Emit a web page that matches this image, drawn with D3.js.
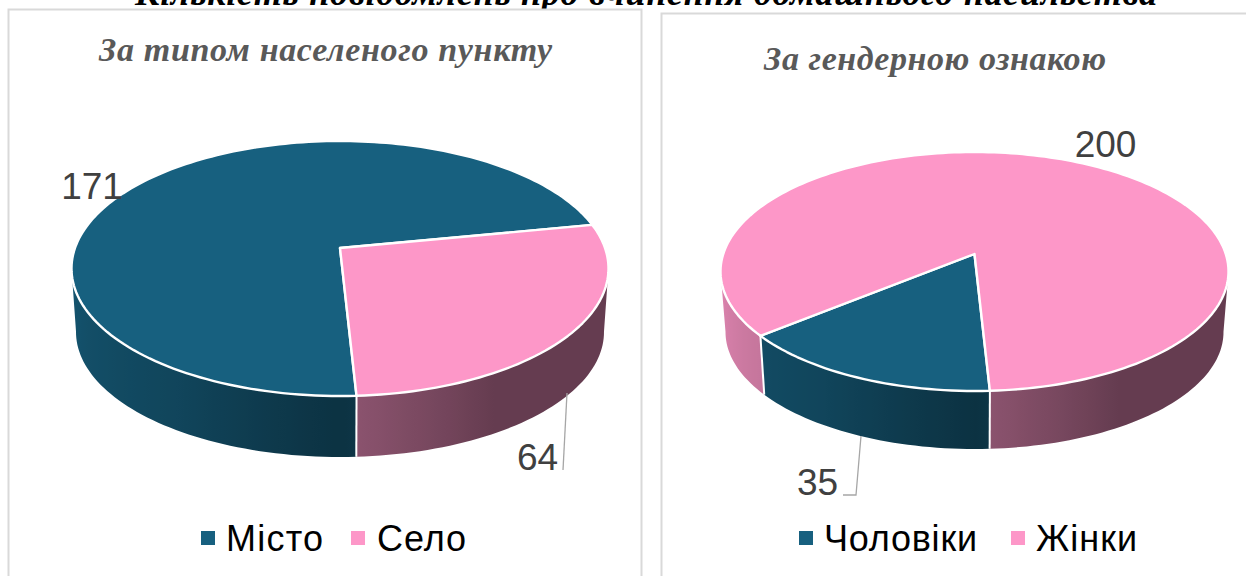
<!doctype html>
<html lang="uk">

<head>
    <meta charset="utf-8">
    <title>d3 - 3d pies</title>
    <script src="https://cdn.jsdelivr.net/npm/d3@7"></script>
    <style>
        body {
            margin: 0;
            background: #fff;
            overflow: hidden;
        }

        svg {
            display: block;
        }
    </style>
</head>

<body>
    <svg></svg>
    <script>
        var width = 1246;
        var height = 576;

        var heading = "Кількість повідомлень про вчинення домашнього насильства";

        var placeCategories = ["Місто", "Село"];
        var placeValues = [171, 64];
        var placeTitle = "За типом населеного пункту";

        var genderCategories = ["Чоловіки", "Жінки"];
        var genderValues = [35, 200];
        var genderTitle = "За гендерною ознакою";

        var colors = ["#17607f", "#fd97c8"];

        // where things go on the page, nothing here is data
        var placeLayout = {
            id: "place",
            panel: [8.5, 9.5, 633, 600],
            title: [325.5, 61, 453],
            top: { cx: 340, cy: 268.5, rx: 268.5, ry: 127.5, d: 20.5 },
            bottom: { cx: 340, cy: 332, rx: 264, ry: 125, d: 20.5 },
            labels: [[92, 199], [537.5, 470]],
            leader: [[567, 393], [563, 470]],
            legend: [[201, 226], [351, 377]],
            legendWidths: [97, 89]
        };
        var genderLayout = {
            id: "gender",
            panel: [661.5, 13.5, 640, 600],
            title: [935, 70, 342],
            top: { cx: 974.5, cy: 271.5, rx: 254, ry: 119.5, d: 17.5 },
            bottom: { cx: 974.5, cy: 332, rx: 249, ry: 117, d: 17.5 },
            labels: [[817.5, 495], [1105.5, 157]],
            leader: [[861, 436], [856, 495], [843, 495]],
            legend: [[799, 824], [1011, 1036]],
            legendWidths: [153, 101]
        };

        var startAngle = 177 * Math.PI / 180;
        var rad = Math.PI / 180;

        var svg = d3.select("svg").attr("width", width).attr("height", height);
        var defs = svg.append("defs");

        // side wall is darker towards the front, same look as the office export
        var shade = d3.scaleLinear()
            .domain([90, 150, 177, 180, 212, 270])
            .range([0.40, 0.40, 0.55, 0.52, 0.72, 0.9])
            .clamp(true);

        var line = d3.line();

        // circle seen in perspective: the middle of the disc is not the middle of the ellipse
        function project(e, a) {
            var u = Math.sin(a);
            var v = -Math.cos(a);
            var k = e.d / e.ry;
            return [
                e.cx + e.rx * Math.sqrt(1 - k * k) * u / (1 - k * v),
                e.cy + (e.ry * v - e.d) / (1 - k * v)
            ];
        }

        function arcPoints(e, a0, a1) {
            var n = Math.ceil((a1 - a0) / rad / 1.5);
            return d3.range(n + 1).map(function (i) {
                return project(e, a0 + (a1 - a0) * i / n);
            });
        }

        function sideColor(base, deg) {
            var c = d3.rgb(base);
            var s = shade(deg);
            return d3.rgb(c.r * s, c.g * s, c.b * s).formatHex();
        }

        // the parts of a slice that face the viewer, in degrees
        // the widest point of the rim sits a little to the front because of the perspective
        function frontParts(s, e) {
            var edge = Math.asin(e.d / e.ry) / rad;
            var parts = [];
            [0, 360].forEach(function (turn) {
                var from = Math.max(s.startAngle / rad, 90 + edge + turn);
                var to = Math.min(s.endAngle / rad, 270 - edge + turn);
                if (from < to) parts.push([from - turn, to - turn]);
            });
            return parts;
        }

        function drawWall(g, lay, s) {
            frontParts(s, lay.top).forEach(function (part, j) {
                var id = lay.id + "-wall-" + s.index + "-" + j;
                var xAt = function (deg) {
                    return (project(lay.top, deg * rad)[0] + project(lay.bottom, deg * rad)[0]) / 2;
                };
                // x falls as the angle grows on the front of the disc
                var x0 = xAt(part[1]);
                var x1 = xAt(part[0]);

                var stops = d3.range(0, 41).map(function (i) {
                    return part[1] + (part[0] - part[1]) * i / 40;
                });

                defs.append("linearGradient")
                    .attr("id", id)
                    .attr("gradientUnits", "userSpaceOnUse")
                    .attr("x1", x0)
                    .attr("x2", x1)
                    .attr("y1", 0)
                    .attr("y2", 0)
                    .selectAll("stop")
                    .data(stops)
                    .enter()
                    .append("stop")
                    .attr("offset", function (d) { return (xAt(d) - x0) / (x1 - x0); })
                    .attr("stop-color", function (d) { return sideColor(colors[s.index], d); });

                var outline = arcPoints(lay.top, part[0] * rad, part[1] * rad)
                    .concat(arcPoints(lay.bottom, part[0] * rad, part[1] * rad).reverse());

                g.append("path")
                    .attr("d", line(outline) + "Z")
                    .attr("fill", "url(#" + id + ")");
            });
        }

        function drawPie(values, categories, title, lay) {
            var g = svg.append("g");

            g.append("rect")
                .attr("x", lay.panel[0])
                .attr("y", lay.panel[1])
                .attr("width", lay.panel[2])
                .attr("height", lay.panel[3])
                .attr("fill", "#fff")
                .attr("stroke", "#d9d9d9")
                .attr("stroke-width", 2);

            g.append("text")
                .attr("x", lay.title[0])
                .attr("y", lay.title[1])
                .attr("text-anchor", "middle")
                .attr("textLength", lay.title[2])
                .attr("font-family", "'Liberation Serif'")
                .attr("font-weight", "bold")
                .attr("font-style", "italic")
                .attr("font-size", 34)
                .attr("fill", "#595959")
                .text(title);

            var slices = d3.pie().sort(null)
                .startAngle(startAngle)
                .endAngle(startAngle + 2 * Math.PI)(values);

            // walls first, the top face covers whatever is behind it
            slices.forEach(function (s) {
                drawWall(g, lay, s);
            });

            // white seams on the wall between the slices
            g.append("g").selectAll("line")
                .data(slices)
                .enter()
                .append("line")
                .attr("x1", function (d) { return project(lay.top, d.startAngle)[0]; })
                .attr("y1", function (d) { return project(lay.top, d.startAngle)[1]; })
                .attr("x2", function (d) { return project(lay.bottom, d.startAngle)[0]; })
                .attr("y2", function (d) { return project(lay.bottom, d.startAngle)[1]; })
                .attr("stroke", "#fff")
                .attr("stroke-width", 2);

            g.append("g").selectAll("path")
                .data(slices)
                .enter()
                .append("path")
                .attr("d", function (d) {
                    var apex = [lay.top.cx, lay.top.cy - lay.top.d];
                    return line([apex].concat(arcPoints(lay.top, d.startAngle, d.endAngle))) + "Z";
                })
                .attr("fill", function (d) { return colors[d.index]; })
                .attr("stroke", "#fff")
                .attr("stroke-width", 2.4)
                .attr("stroke-linejoin", "round");

            g.append("path")
                .attr("d", line(lay.leader))
                .attr("fill", "none")
                .attr("stroke", "#a6a6a6")
                .attr("stroke-width", 1.3);

            g.append("g").selectAll("text")
                .data(slices)
                .enter()
                .append("text")
                .attr("x", function (d) { return lay.labels[d.index][0]; })
                .attr("y", function (d) { return lay.labels[d.index][1]; })
                .attr("text-anchor", "middle")
                .attr("font-family", "'Liberation Sans'")
                .attr("font-size", 37)
                .attr("fill", "#404040")
                .text(function (d) { return d.value; });

            var legend = g.append("g").selectAll("g")
                .data(categories)
                .enter()
                .append("g");

            legend.append("rect")
                .attr("x", function (d, i) { return lay.legend[i][0]; })
                .attr("y", 531)
                .attr("width", 14)
                .attr("height", 14)
                .attr("fill", function (d, i) { return colors[i]; });

            legend.append("text")
                .attr("x", function (d, i) { return lay.legend[i][1]; })
                .attr("y", 551)
                .attr("textLength", function (d, i) { return lay.legendWidths[i]; })
                .attr("font-family", "'Liberation Sans'")
                .attr("font-size", 36)
                .attr("fill", "#000")
                .text(function (d) { return d; });
        }

        svg.append("text")
            .attr("x", 646)
            .attr("y", 4.5)
            .attr("text-anchor", "middle")
            .attr("textLength", 1022)
            .attr("font-family", "'Liberation Serif'")
            .attr("font-weight", "bold")
            .attr("font-style", "italic")
            .attr("font-size", 36)
            .attr("fill", "#000")
            .text(heading);

        drawPie(placeValues, placeCategories, placeTitle, placeLayout);
        drawPie(genderValues, genderCategories, genderTitle, genderLayout);
    </script>

</body>

</html>
